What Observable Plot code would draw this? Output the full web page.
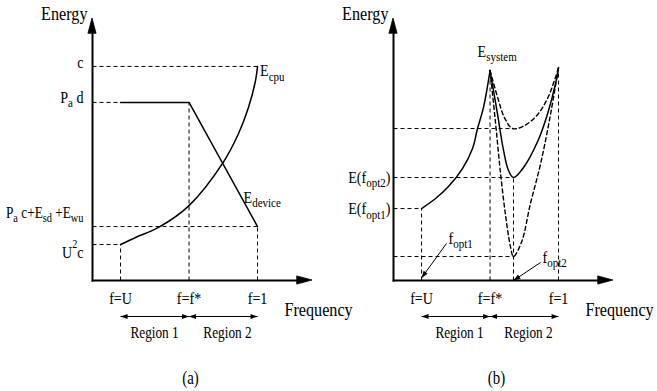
<!DOCTYPE html>
<html><head><meta charset="utf-8">
<script src="https://cdn.jsdelivr.net/npm/d3@7"></script>
<script src="https://cdn.jsdelivr.net/npm/@observablehq/plot@0.6"></script>
<style>
html,body{margin:0;padding:0;background:#fff;}
#fig{position:relative;width:657px;height:391px;overflow:hidden;background:#fff;}
#fig svg{position:absolute;top:0;}
</style></head><body><div id="fig"></div>
<script>
// ---------- shared frequency axis ----------
const tickLabels = ["f=U", "f=f*", "f=1"];
const tickF = [0.17, 0.585, 1.0];
const fOpt2 = 0.727;
const fMax = 1.333, eMax = 1.224;
const regionNames = ["Region 1", "Region 2"];
const regionFrom = [0.17, 0.585];
const regionTo = [0.585, 1.0];

// ---------- panel (a) ----------
const cpuF = [0.17, 0.261, 0.400, 0.585, 0.788, 0.885, 0.945, 0.988, 1.0];
const cpuE = [0.168, 0.201, 0.248, 0.350, 0.547, 0.687, 0.808, 0.935, 1.0];
const devF = [0.17, 0.585, 1.0];
const devE = [0.832, 0.832, 0.252];
const levelLabelsA = ["c", "P_{a} d", "P_{a} c+E_{sd} +E_{wu}", "U^{2}c"];
const levelsA = [1.0, 0.832, 0.252, 0.168];
const levelToA = [1.0, 0.17, 1.0, 0.17];
const dropFA = [0.17, 0.585, 1.0];
const dropEA = [0.168, 0.832, 0.252];

// ---------- panel (b) ----------
const sysLeftF = [0.17, 0.255, 0.333, 0.418, 0.479, 0.509, 0.545, 0.585];
const sysLeftE = [0.336, 0.383, 0.439, 0.523, 0.617, 0.710, 0.808, 0.981];
const sysRightF = [0.585, 0.630, 0.667, 0.697, 0.727, 0.788, 0.876, 0.936, 0.982, 1.0];
const sysRightE = [0.981, 0.778, 0.607, 0.514, 0.481, 0.528, 0.654, 0.785, 0.921, 0.995];
const highF = [0.585, 0.633, 0.673, 0.721, 0.785, 0.867, 0.936, 1.0];
const highE = [0.981, 0.850, 0.760, 0.710, 0.720, 0.770, 0.855, 0.995];
const lowF = [0.585, 0.618, 0.648, 0.679, 0.709, 0.727, 0.776, 0.830, 0.891, 0.950, 1.0];
const lowE = [0.981, 0.738, 0.505, 0.304, 0.157, 0.112, 0.180, 0.360, 0.545, 0.770, 0.995];
const levelLabelsB = ["", "E(f_{opt2})", "E(f_{opt1})", ""];
const levelsB = [0.710, 0.481, 0.336, 0.112];
const levelToB = [0.721, 0.727, 0.17, 0.727];
const dropFB = [0.17, 0.585, 0.727, 1.0];
const dropEB = [0.336, 0.981, 0.481, 0.995];
const optLabels = ["f_{opt1}", "f_{opt2}"];
const optToF = [0.17, 0.727];
const optToE = [0.012, 0.0];
const optFromF = [0.321, 0.891];
const optFromE = [0.173, 0.084];

const zipFE = (F, E) => F.map((f, i) => ({f, E: E[i]}));
const SX = 0.83;
const FONT = "'Liberation Serif', 'DejaVu Serif', 'Times New Roman', serif";
const M = {width: 356, height: 391, left: 92, right: 44, top: 18, bottom: 111};
const pxF = fMax / (M.width - M.left - M.right);
const pxE = eMax / (M.height - M.top - M.bottom);

function panel(cfg) {
  const dash = {stroke: "black", strokeWidth: 1, strokeDasharray: "4,3"};
  const guides = cfg.levels.map((v, i) => ({x1: 0, x2: cfg.levelTo[i], y1: v, y2: v}))
    .concat(cfg.dropF.map((f, i) => ({x1: f, x2: f, y1: 0, y2: cfg.dropE[i]})));
  const T = {fontFamily: FONT};
  const yHead = [{E: eMax - 15 * pxE, a: -4 * pxF, b: 4 * pxF}, {E: eMax, a: 0, b: 0}];
  const xHead = [{f: fMax - 15 * pxF, a: -4 * pxE, b: 4 * pxE}, {f: fMax, a: 0, b: 0}];
  const marks = [
    // link #0: guides
    Plot.link(guides, {x1: "x1", x2: "x2", y1: "y1", y2: "y2", ...dash}),
    ...cfg.curves.map(c => Plot.line(c.data, {x: "f", y: "E", curve: c.curve || "catmull-rom",
      stroke: "black", strokeWidth: c.dashed ? 1.4 : 1.5, strokeDasharray: c.dashed ? "4,3" : null})),
    // link #1: axes
    Plot.link([{x1: 0, y1: -0.005, x2: 0, y2: eMax - 8 * pxE}, {x1: -0.005, y1: 0, x2: fMax - 8 * pxF, y2: 0}],
      {x1: "x1", x2: "x2", y1: "y1", y2: "y2", stroke: "black", strokeWidth: 2}),
    Plot.areaX(yHead, {y: "E", x1: "a", x2: "b", fill: "black", stroke: "black", strokeWidth: 0.8, curve: "linear"}),
    Plot.areaY(xHead, {x: "f", y1: "a", y2: "b", fill: "black", stroke: "black", strokeWidth: 0.8, curve: "linear"}),
    // link #2: region spans
    Plot.link(regionNames, {x1: (d, i) => regionFrom[i], x2: (d, i) => regionTo[i], y1: 0, y2: 0, dy: 36,
      stroke: "black", strokeWidth: 1}),
    Plot.text(["Energy"], {x: 0, y: eMax, dx: -5, dy: -4.5, text: d => d, textAnchor: "end", fontSize: 19.5, ...T}),
    Plot.text(["Frequency"], {x: 1.163, y: 0, dy: 29, text: d => d, textAnchor: "start", fontSize: 19.5, ...T}),
    Plot.text(tickLabels, {x: (d, i) => tickF[i], y: 0, dy: 18, text: d => d, fontSize: 17, ...T}),
    Plot.text(regionNames, {x: (d, i) => cfg.regionLabelF[i], y: 0, dy: 52.5, text: d => d, fontSize: 16, ...T}),
    Plot.text([cfg.tag], {x: cfg.tagF, y: 0, dy: 98, text: d => d, fontSize: 18, ...T}),
    ...cfg.levelLabels.map((t, i) => t ? Plot.text([t], {x: 0, y: cfg.levels[i], dx: cfg.levelDx,
      dy: cfg.levelDy[i], text: d => d, textAnchor: "end", fontSize: t.length > 12 ? 16 : 17, ...T}) : null).filter(Boolean),
    ...cfg.extra
  ];
  return Plot.plot({
    width: M.width, height: M.height,
    marginLeft: M.left, marginRight: M.right, marginTop: M.top, marginBottom: M.bottom,
    x: {domain: [0, fMax], axis: null},
    y: {domain: [0, eMax], axis: null},
    style: {fontFamily: FONT, fontSize: "17px", background: "transparent", overflow: "visible", color: "black"},
    marks
  });
}

const svgA = panel({
  tag: "(a)", tagF: 0.594, regionLabelF: [0.376, 0.818],
  levels: levelsA, levelTo: levelToA, levelLabels: levelLabelsA, levelDx: -9, levelDy: [-4, -5, -14, 8],
  dropF: dropFA, dropE: dropEA,
  curves: [{data: zipFE(cpuF, cpuE)}, {data: zipFE(devF, devE), curve: "linear"}],
  extra: [
    Plot.text(["E_{cpu}"], {x: cpuF[cpuF.length - 1], y: cpuE[cpuE.length - 1], dx: 2.5, dy: 4.5, text: d => d, textAnchor: "start", fontSize: 17, fontFamily: FONT}),
    Plot.text(["E_{device}"], {x: 0.915, y: 0.388, text: d => d, textAnchor: "start", fontSize: 17, fontFamily: FONT})
  ]
});

const svgB = panel({
  tag: "(b)", tagF: 0.624, regionLabelF: [0.4, 0.818],
  levels: levelsB, levelTo: levelToB, levelLabels: levelLabelsB, levelDx: -3, levelDy: [0, 0, 0, 0],
  dropF: dropFB, dropE: dropEB,
  curves: [
    {data: zipFE(highF, highE), dashed: true},
    {data: zipFE(lowF, lowE), dashed: true},
    {data: zipFE(sysLeftF, sysLeftE)},
    {data: zipFE(sysRightF, sysRightE)}
  ],
  extra: [
    // link #3: f_opt pointers
    Plot.link(optLabels, {x1: (d, i) => optFromF[i], y1: (d, i) => optFromE[i], x2: (d, i) => optToF[i], y2: (d, i) => optToE[i],
      stroke: "black", strokeWidth: 1}),
    Plot.text(optLabels, {x: (d, i) => optFromF[i], y: (d, i) => optFromE[i], dx: 2, dy: -5, text: d => d, textAnchor: "start", fontSize: 17, fontFamily: FONT}),
    Plot.text(["E_{system}"], {x: tickF[1], y: sysLeftE[sysLeftE.length - 1], dx: -12.5, dy: -19, text: d => d, textAnchor: "start", fontSize: 17, fontFamily: FONT})
  ]
});

const fig = document.getElementById("fig");
svgA.style.left = "0px";
svgB.style.left = "301px";
fig.appendChild(svgA);
fig.appendChild(svgB);

const NS = "http://www.w3.org/2000/svg";
function rich(t, s) {
  const fs = parseFloat(getComputedStyle(t).fontSize) || 17;
  t.textContent = "";
  const parts = s.split(/([_^]\{[^}]*\})/).filter(p => p);
  let shift = 0;
  for (const p of parts) {
    const ts = document.createElementNS(NS, "tspan");
    let target = 0, size = null, txt = p;
    if (p[0] === "_") { target = 4.5; size = fs * 0.78; txt = p.slice(2, -1); }
    else if (p[0] === "^") { target = -10; size = fs * 0.72; txt = p.slice(2, -1); }
    if (target !== shift) ts.setAttribute("dy", target - shift);
    shift = target;
    if (size) ts.setAttribute("font-size", size);
    ts.textContent = txt;
    t.appendChild(ts);
  }
}
function head(parent, x0, y0, x1, y1, len, half) {
  const dx = x1 - x0, dy = y1 - y0, L = Math.hypot(dx, dy) || 1;
  const ux = dx / L, uy = dy / L, px = -uy, py = ux;
  const bx = x1 - ux * len, by = y1 - uy * len;
  const p = document.createElementNS(NS, "path");
  p.setAttribute("d", `M${x1},${y1}L${bx + px * half},${by + py * half}L${bx - px * half},${by - py * half}Z`);
  p.setAttribute("fill", "black");
  p.setAttribute("stroke", "none");
  parent.appendChild(p);
}
function ends(path) {
  const n = ((path.getAttribute("d") || "").match(/-?\d*\.?\d+(?:e-?\d+)?/gi) || []).map(Number);
  return [n[0], n[1], n[n.length - 2], n[n.length - 1]];
}
function linkGroups(svg) {
  return Array.from(svg.querySelectorAll("g")).filter(g => {
    const ps = Array.from(g.children).filter(c => c.tagName === "path");
    return ps.length && g.getAttribute("aria-label") === "link";
  });
}
[svgA, svgB].forEach(svg => {
  svg.querySelectorAll("text").forEach(t => {
    t.setAttribute("font-family", FONT);
    t.style.fontFamily = FONT;
    const s = t.textContent;
    if (/[_^]\{/.test(s)) rich(t, s);
    const tr = t.getAttribute("transform") || "";
    t.setAttribute("transform", tr + ` scale(${SX},1)`);
  });
  const groups = linkGroups(svg);
  const paths = k => groups[k] ? Array.from(groups[k].children).filter(c => c.tagName === "path") : [];
  paths(2).forEach(p => { const [a, b, c, d] = ends(p); head(p.parentNode, a, b, c, d, 7, 2.5); head(p.parentNode, c, d, a, b, 7, 2.5); });
  paths(3).forEach(p => { const [a, b, c, d] = ends(p); head(p.parentNode, a, b, c, d, 7, 2.5); });
});
</script>
</body></html>
